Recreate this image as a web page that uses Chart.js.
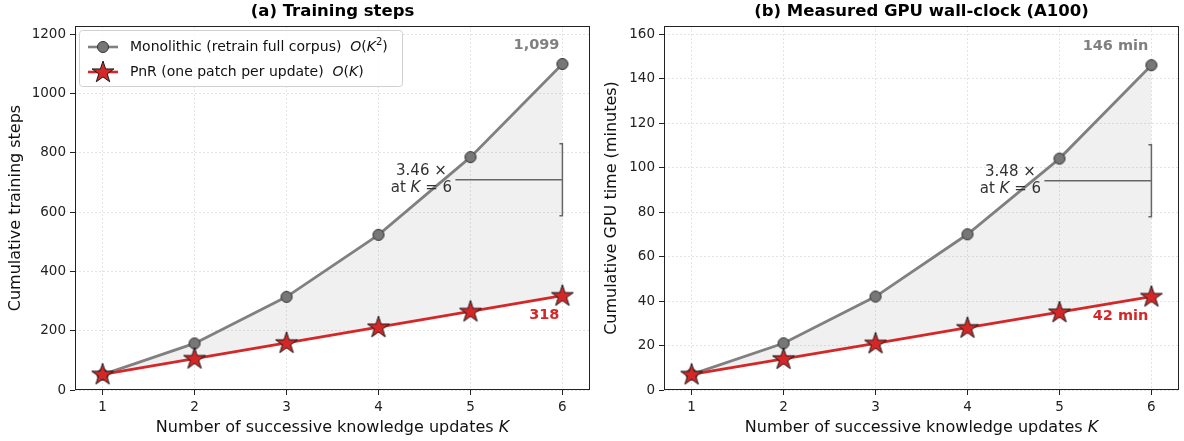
<!DOCTYPE html>
<html>
<head>
<meta charset="utf-8">
<script src="https://cdn.jsdelivr.net/npm/chart.js@4.4.1/dist/chart.umd.min.js"></script>
<style>
  html, body { margin: 0; padding: 0; background: #fff; }
  #wrap { position: relative; width: 1184px; height: 441px; overflow: hidden; }
  canvas { position: absolute; top: 0; }
</style>
</head>
<body>
<div id="wrap">
  <canvas id="left" width="592" height="441" style="left:0"></canvas>
  <canvas id="right" width="592" height="441" style="left:592px"></canvas>
</div>
<script>
// data
const ks = [1, 2, 3, 4, 5, 6];
const monoSteps = [52, 157, 314, 523, 785, 1099];
const pnrSteps = [53, 106, 159, 212, 265, 318];
const monoMinutes = [7, 21, 42, 70, 104, 146];
const pnrMinutes = [7, 14, 21, 28, 35, 42];
const stepTicks = [0, 200, 400, 600, 800, 1000, 1200];
const minuteTicks = [0, 20, 40, 60, 80, 100, 120, 140, 160];

const FONT = "'DejaVu Sans', sans-serif";
const GREY = '#808080';
const RED = '#d62728';

// marker images
function circleImg() {
  const c = document.createElement('canvas');
  c.width = 14; c.height = 14;
  const g = c.getContext('2d');
  g.beginPath();
  g.arc(7, 7, 5.5, 0, Math.PI * 2);
  g.fillStyle = '#777777';
  g.fill();
  g.lineWidth = 1;
  g.strokeStyle = '#333333';
  g.stroke();
  return c;
}
function starImg() {
  const c = document.createElement('canvas');
  c.width = 26; c.height = 26;
  const g = c.getContext('2d');
  const R = 11.5, r = 11.5 * 0.381966;
  g.beginPath();
  for (let i = 0; i < 10; i++) {
    const ang = -Math.PI / 2 + i * Math.PI / 5;
    const rad = i % 2 === 0 ? R : r;
    const px = 13 + rad * Math.cos(ang), py = 13.5 + rad * Math.sin(ang);
    if (i === 0) g.moveTo(px, py); else g.lineTo(px, py);
  }
  g.closePath();
  g.fillStyle = RED;
  g.fill();
  g.lineWidth = 1;
  g.strokeStyle = '#1a1a1a';
  g.stroke();
  return c;
}
const CIRCLE = circleImg();
const STAR = starImg();

// text made of runs with different fonts
function runs(ctx, parts, x, y, align) {
  let w = 0;
  parts.forEach(p => { ctx.font = p.f; w += ctx.measureText(p.t).width; });
  let cx = align === 'center' ? x - w / 2 : align === 'right' ? x - w : x;
  ctx.textAlign = 'left';
  parts.forEach(p => {
    ctx.font = p.f;
    ctx.fillText(p.t, cx, y + (p.dy || 0));
    cx += ctx.measureText(p.t).width;
  });
}
const N = s => `${s}px ${FONT}`;
const I = s => `italic ${s}px ${FONT}`;
const B = s => `bold ${s}px ${FONT}`;

const panels = {
  left: {
    title: '(a) Training steps', yTitle: 'Cumulative training steps', yTitleX: 16,
    mono: monoSteps, pnr: pnrSteps, fmt: v => v.toLocaleString('en-US'), legend: true
  },
  right: {
    title: '(b) Measured GPU wall-clock (A100)', yTitle: 'Cumulative GPU time (minutes)', yTitleX: 20,
    mono: monoMinutes, pnr: pnrMinutes, fmt: v => v + ' min', legend: false
  }
};

const overlay = {
  id: 'overlay',
  afterDraw(chart) {
    const o = panels[chart.canvas.id];
    const { ctx, chartArea: a, scales: { x, y } } = chart;
    ctx.save();
    // frame
    ctx.strokeStyle = '#222';
    ctx.lineWidth = 1;
    ctx.strokeRect(a.left + 0.5, a.top + 0.5, a.right - a.left - 1, a.bottom - a.top - 1);

    const cx = (a.left + a.right) / 2;
    ctx.fillStyle = '#000';
    ctx.textBaseline = 'middle';
    ctx.textAlign = 'center';
    ctx.font = B(16.5);
    ctx.fillText(o.title, cx, 12);

    // axis titles
    ctx.fillStyle = '#111';
    runs(ctx, [{ t: 'Number of successive knowledge updates ', f: N(16) }, { t: 'K', f: I(16) }], cx, 428, 'center');
    ctx.save();
    ctx.translate(o.yTitleX, (a.top + a.bottom) / 2);
    ctx.rotate(-Math.PI / 2);
    ctx.textAlign = 'center';
    ctx.font = N(16);
    ctx.fillText(o.yTitle, 0, 0);
    ctx.restore();

    // end-point value labels
    const last = ks.length - 1;
    const x6 = x.getPixelForValue(ks[last]);
    const m6 = o.mono[last], p6 = o.pnr[last];
    ctx.textAlign = 'right';
    ctx.font = B(14.5);
    ctx.fillStyle = GREY;
    ctx.fillText(o.fmt(m6), x6 - 3, y.getPixelForValue(m6) - 19);
    ctx.fillStyle = RED;
    ctx.fillText(o.fmt(p6), x6 - 3, y.getPixelForValue(p6) + 20);

    // ratio bracket
    const mid = y.getPixelForValue((m6 + p6) / 2);
    ctx.strokeStyle = '#666';
    ctx.lineWidth = 1.5;
    ctx.beginPath();
    ctx.moveTo(x6 - 3, mid - 36); ctx.lineTo(x6, mid - 36); ctx.lineTo(x6, mid + 36); ctx.lineTo(x6 - 3, mid + 36);
    ctx.moveTo(x6 - 107, mid); ctx.lineTo(x6, mid);
    ctx.stroke();
    ctx.fillStyle = '#333';
    const tx = x6 - 141;
    runs(ctx, [{ t: (m6 / p6).toFixed(2) + ' \u00d7', f: N(15) }], tx, mid - 9, 'center');
    runs(ctx, [{ t: 'at ', f: N(15) }, { t: 'K', f: I(15) }, { t: ' = 6', f: N(15) }], tx, mid + 8, 'center');

    // legend (left panel only)
    if (o.legend) {
      const lx = 79, ly = 30, lw = 323, lh = 56;
      ctx.beginPath();
      ctx.roundRect(lx + 0.5, ly + 0.5, lw, lh, 3);
      ctx.fillStyle = 'rgba(255,255,255,0.8)';
      ctx.fill();
      ctx.strokeStyle = '#d0d0d0';
      ctx.lineWidth = 1;
      ctx.stroke();
      const rows = [
        { c: GREY, img: CIRCLE, y: 47, parts: [
          { t: 'Monolithic (retrain full corpus)  ', f: N(14) }, { t: 'O', f: I(14) }, { t: '(', f: N(14) },
          { t: 'K', f: I(14) }, { t: '2', f: N(10), dy: -5 }, { t: ')', f: N(14) }] },
        { c: RED, img: STAR, y: 72, parts: [
          { t: 'PnR (one patch per update)  ', f: N(14) }, { t: 'O', f: I(14) }, { t: '(', f: N(14) },
          { t: 'K', f: I(14) }, { t: ')', f: N(14) }] }
      ];
      rows.forEach(r => {
        ctx.strokeStyle = r.c;
        ctx.lineWidth = 2.6;
        ctx.beginPath();
        ctx.moveTo(88, r.y); ctx.lineTo(118, r.y);
        ctx.stroke();
        ctx.drawImage(r.img, 103 - r.img.width / 2, r.y - r.img.height / 2);
        ctx.fillStyle = '#111';
        runs(ctx, r.parts, 130, r.y, 'left');
      });
    }
    ctx.restore();
  }
};

function makeChart(id, mono, pnr, yTicks, yMax, padRight, yWidth) {
  const ctx = document.getElementById(id).getContext('2d');
  return new Chart(ctx, {
    type: 'line',
    data: {
      datasets: [
        {
          label: 'PnR',
          data: ks.map((k, i) => ({ x: k, y: pnr[i] })),
          borderColor: RED, borderWidth: 2.8,
          pointStyle: STAR, pointRadius: 8, fill: false
        },
        {
          label: 'Monolithic',
          data: ks.map((k, i) => ({ x: k, y: mono[i] })),
          borderColor: GREY, borderWidth: 2.8,
          pointStyle: CIRCLE, pointRadius: 6,
          fill: '-1', backgroundColor: 'rgba(128,128,128,0.12)'
        }
      ]
    },
    plugins: [overlay],
    options: {
      responsive: false,
      animation: false,
      events: [],
      elements: { line: { tension: 0 } },
      layout: { autoPadding: false, padding: { left: 0, top: 26, right: padRight, bottom: 0 } },
      plugins: { legend: { display: false }, tooltip: { enabled: false } },
      scales: {
        x: {
          type: 'linear', min: 0.7, max: 6.3,
          afterBuildTicks: s => { s.ticks = ks.map(v => ({ value: v })); },
          afterFit: s => { s.height = 51; s.paddingLeft = 0; s.paddingRight = 0; },
          ticks: { color: '#222', padding: 4, font: { family: FONT, size: 13.5 }, callback: v => String(v) },
          grid: { color: '#e4e4e4', tickColor: '#222', tickLength: 5, tickBorderDash: [] },
          border: { display: false, dash: [2, 2] }
        },
        y: {
          type: 'linear', min: 0, max: yMax,
          afterBuildTicks: s => { s.ticks = yTicks.map(v => ({ value: v })); },
          afterFit: s => { s.width = yWidth; s.paddingTop = 0; s.paddingBottom = 0; },
          ticks: { color: '#222', padding: 4, font: { family: FONT, size: 13.5 }, callback: v => String(v) },
          grid: { color: '#e4e4e4', tickColor: '#222', tickLength: 5, tickBorderDash: [] },
          border: { display: false, dash: [2, 2] }
        }
      }
    }
  });
}

makeChart('left', monoSteps, pnrSteps, stepTicks, 1227, 2, 75);
makeChart('right', monoMinutes, pnrMinutes, minuteTicks, 163.6, 5, 72);
</script>
</body>
</html>
